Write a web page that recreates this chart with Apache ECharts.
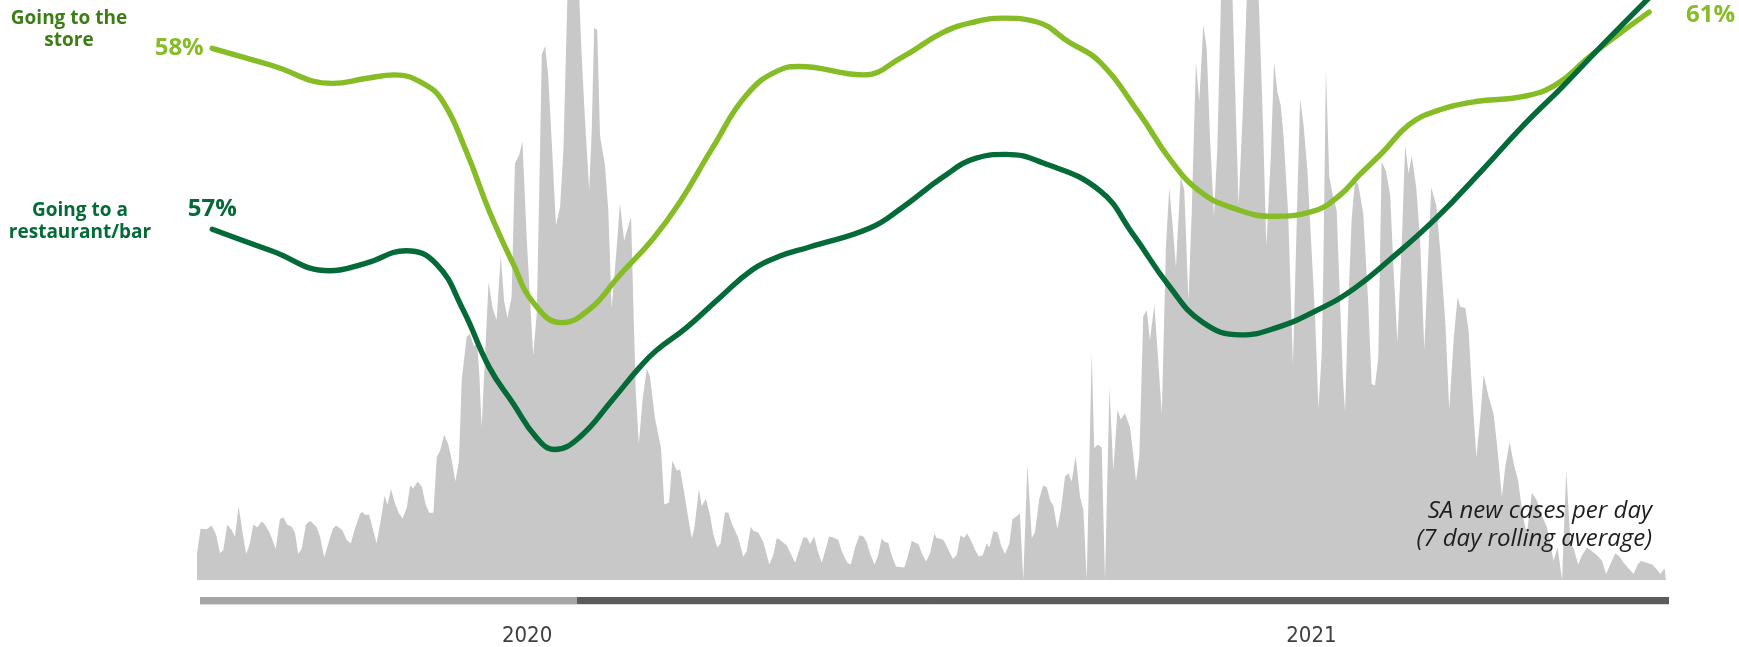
<!DOCTYPE html>
<html>
<head>
<meta charset="utf-8">
<script src="https://cdn.jsdelivr.net/npm/echarts@6/dist/echarts.min.js"></script>
<style>
  html, body { margin: 0; padding: 0; background: #ffffff; }
  #chart { width: 1739px; height: 647px; }
</style>
</head>
<body>
<div id="chart"></div>
<script>
// New cases per day, as [day index, cases]
const dailyCases = [
  [0,670],[1.3,1280],[3.5,1270],[5.3,1360],[6.9,1130],[8.3,670],[9.5,750],[10.9,1390],[12.5,1250],[13.7,1080],
  [15.0,1850],[16.5,1170],[17.7,650],[18.9,860],[20.3,1380],[21.8,1320],[23.3,1460],[24.5,1390],[26.3,1170],[28.4,780],
  [29.9,1520],[31.1,1570],[32.6,1380],[34.2,1330],[35.4,1170],[36.5,650],[37.8,790],[39.3,1390],[40.8,1480],[43.2,1320],
  [44.4,1080],[45.9,570],[47.4,920],[49.0,1280],[50.2,1360],[52.4,1250],[54.0,1000],[55.5,920],[57.0,1290],[58.8,1650],
  [59.8,1700],[60.6,1630],[62.1,1630],[63.4,1290],[64.8,920],[66.3,1500],[67.7,2110],[68.7,1880],[70.0,2270],[71.4,1920],
  [73.0,1650],[74.2,1540],[75.7,1810],[76.9,2370],[78.0,2290],[79.6,2460],[81.1,2330],[82.5,1880],[83.8,1680],[85.3,1680],
  [86.5,3070],[87.7,3230],[89.2,3630],[90.7,3380],[91.9,3000],[93.2,2460],[94.5,2960],[95.5,5000],[97.3,6080],[98.5,6150],
  [99.9,5840],[101.1,5920],[101.9,5090],[102.7,3820],[103.7,5280],[105.2,7450],[106.7,6790],[108.1,6500],[109.6,8100],[110.8,6980],
  [112.0,6550],[113.5,7070],[114.7,10410],[116.3,10640],[117.4,10970],[119.0,8480],[121.3,5610],[122.6,6690],[123.5,9800],[124.4,13140],
  [125.6,13350],[126.7,12620],[128.0,10930],[129.5,8860],[131.0,9330],[132.2,10740],[133.9,15250],[137.5,15250],[138.8,13090],[140.0,11490],
  [141.5,9750],[142.4,11210],[143.3,13800],[144.4,13750],[145.4,11110],[147.2,10360],[148.4,9230],[149.6,6790],[151.4,8290],[152.6,9420],
  [154.1,8480],[156.6,9090],[157.4,6970],[158.3,4720],[159.4,3400],[160.8,4530],[162.3,5280],[163.4,5090],[165.2,4060],[167.4,3300],
  [168.6,1890],[170.3,1940],[171.5,2980],[173.1,2740],[174.3,2760],[175.7,2220],[177.3,1520],[178.5,1050],[179.4,1280],[181.1,2270],
  [182.1,1850],[183.6,2030],[185.1,1610],[186.3,1140],[187.7,810],[188.9,910],[190.5,1690],[191.7,1690],[192.9,1420],[195.3,1050],
  [197.1,580],[198.3,720],[199.8,1330],[200.7,1230],[202.5,1190],[204.3,950],[206.5,390],[207.9,620],[209.2,1050],[210.4,1000],
  [212.8,860],[215.8,430],[217.3,760],[218.8,1060],[220.0,1060],[221.2,900],[222.7,1090],[223.8,760],[225.4,430],[226.6,720],
  [228.1,1090],[229.6,1060],[231.4,1000],[232.6,720],[234.6,430],[235.9,390],[237.4,810],[239.0,1120],[240.4,1090],[241.6,950],
  [242.8,670],[244.4,390],[245.6,580],[247.0,1030],[248.2,950],[249.4,930],[250.6,620],[252.2,340],[255.2,310],[256.4,580],
  [257.9,980],[259.1,930],[260.3,900],[261.5,670],[263.0,460],[264.5,670],[266.0,1160],[266.9,1050],[268.1,1030],[269.3,1000],
  [270.7,810],[272.7,530],[274.1,620],[275.5,1120],[276.7,1050],[277.9,1160],[279.5,950],[280.7,750],[282.1,590],[283.5,620],
  [284.9,910],[285.9,810],[287.3,1220],[288.9,1190],[290.1,860],[291.5,650],[293.1,910],[294.2,1520],[295.7,1590],[296.9,1660],
  [298.1,0],[299.6,2880],[301.2,1050],[302.3,1190],[303.9,2030],[305.3,2360],[306.6,2320],[307.8,1990],[309.0,1850],[310.4,1280],
  [311.7,1750],[313.2,2600],[314.4,2660],[315.6,2460],[317.0,3100],[318.6,2080],[319.8,1750],[321.0,0],[322.8,5700],[323.7,3300],
  [325.0,3380],[326.4,3320],[327.6,0],[329.2,4810],[330.6,2740],[332.1,4250],[333.3,4010],[334.8,4170],[336.6,3820],[337.8,3130],
  [338.8,2460],[340.0,3120],[341.4,6600],[342.7,6740],[343.8,5990],[345.4,6880],[346.8,5470],[348.1,4150],[349.6,8390],[350.8,9800],
  [352.0,8860],[353.2,7820],[354.9,10080],[356.2,9750],[357.7,6970],[358.9,9230],[360.4,12950],[361.6,11960],[363.1,13890],[364.3,13280],
  [365.5,11020],[366.9,9090],[368.1,10740],[369.7,15250],[373.3,15250],[374.8,11680],[375.8,9370],[377.3,11680],[379.1,15250],[382.7,15250],
  [384.6,11400],[385.8,8340],[387.4,10550],[388.6,12950],[389.8,12200],[391.0,11870],[392.0,11110],[393.7,9140],[395.4,5370],[396.8,9040],
  [398.0,12010],[399.2,11400],[400.6,10270],[401.8,8670],[403.4,6600],[404.6,4290],[405.8,5660],[406.4,7910],[407.3,12790],[408.5,10080],
  [409.8,9610],[411.2,9230],[412.4,6970],[413.4,5090],[414.2,4200],[415.4,6970],[416.6,9040],[417.8,9980],[419.0,9890],[420.8,9140],
  [422.6,6880],[423.8,4900],[425.0,4860],[426.2,5560],[427.4,10460],[429.0,10220],[430.5,9610],[431.6,7910],[433.1,5940],[434.7,8480],
  [435.9,10880],[437.1,10170],[438.3,10600],[439.9,9800],[441.3,8480],[442.8,5750],[444.0,7730],[445.3,9820],[447.1,9370],[448.6,8200],
  [450.4,6410],[451.8,4250],[453.4,6030],[454.8,7070],[455.8,6830],[457.6,6800],[458.8,6220],[460.0,4720],[461.6,3070],[463.0,4060],
  [464.2,5140],[466.0,4580],[467.8,4150],[469.0,3400],[470.8,2080],[472.0,2830],[473.6,3450],[475.0,2930],[476.7,2460],[478.3,1610],
  [479.8,1140],[481.6,2180],[483.4,1990],[485.2,1610],[487.0,1330],[488.2,950],[489.4,480],[490.9,810],[492.5,0],[494.0,2740],
  [495.5,950],[496.8,760],[498.3,390],[499.7,620],[501.5,810],[503.3,720],[505.1,620],[506.9,480],[508.4,150],[509.9,390],
  [511.7,670],[513.3,580],[514.7,430],[516.5,290],[518.3,150],[519.8,390],[521.0,480],[522.9,430],[525.0,390],[526.5,280],
  [528.0,150],[529.5,290],[530.0,340]
];

// Share of respondents comfortable going to the store (%)
const storeDays = [5.5, 26.8, 49, 60.8, 71.2, 81.5, 88.7, 97.1, 105.5, 114, 121.2, 131.4, 141.6, 152.4, 164.4,
  174, 186.1, 198.1, 210.1, 217.4, 240.2, 254.6, 269, 280.8, 290.8, 302.8, 314.7, 325.6, 340, 350.8, 361.6,
  373.6, 388.1, 402.5, 412.1, 419.3, 427.8, 437.4, 447, 461.4, 478.2, 490.3, 502.3, 511.9, 523.9];
const storeShare = [58, 56.6, 55.1, 55.5, 55.8, 55.1, 53.6, 49.5, 44.5, 40.2, 37.0, 35.3, 36.4, 39.2, 42.2,
  45.2, 49.8, 54.1, 56.2, 56.5, 55.8, 57.3, 59.3, 60.2, 60.5, 60.2, 58.5, 56.9, 52.6, 48.9, 46.2,
  44.8, 44.1, 44.5, 45.8, 47.5, 49.4, 51.7, 52.8, 53.6, 54.0, 55.0, 57.3, 59.0, 61];

// Share of respondents comfortable going to a restaurant/bar (%)
const restaurantDays = [5.5, 26.8, 47.8, 60.8, 75.5, 86.3, 95.9, 105.5, 114, 122.4, 129, 138, 150, 159.6, 165.6,
  176.5, 188.5, 200.5, 210.1, 221, 242.6, 254.6, 269, 281.1, 291.9, 305.1, 325.6, 337.6, 350.8, 362.8,
  376.6, 389.3, 404.9, 417.5, 430.2, 447, 463.8, 478.2, 492.7, 507.1, 524.8];
const restaurantShare = [57.00, 56.54, 56.11, 56.27, 56.54, 56.26, 55.29, 54.04, 53.28, 52.55, 52.29, 52.55, 53.36, 54.04, 54.40,
  54.89, 55.53, 56.14, 56.42, 56.62, 57.02, 57.47, 58.11, 58.52, 58.60, 58.42, 57.83, 56.90, 55.78, 55.01,
  54.74, 54.89, 55.29, 55.73, 56.34, 57.23, 58.27, 59.20, 60.05, 60.94, 62.00];

// Timeline strip: segment lengths in days
const timelineSegments = [136, 394];
const yearLabels = ['2020', '2021'];
const yearLabelDays = [118, 401];

const STORE_COLOR = '#86BC25';
const RESTAURANT_COLOR = '#046A38';
const FONT = '"Open Sans", "Noto Sans", sans-serif';

function pairs(xs, ys) { return xs.map((x, i) => [x, ys[i]]); }

function withStartLabel(points, color, position, distance) {
  const data = points.map(p => p.slice());
  data[0] = {
    value: points[0],
    symbol: 'circle',
    symbolSize: 3,
    itemStyle: { color: color },
    label: {
      show: true,
      position: position,
      distance: distance,
      formatter: p => Math.round(p.value[1]) + '%',
      color: color,
      fontFamily: FONT,
      fontWeight: 'bold',
      fontSize: 24
    }
  };
  return data;
}

const chart = echarts.init(document.getElementById('chart'), null, { renderer: 'canvas' });

chart.setOption({
  animation: false,
  backgroundColor: '#ffffff',
  grid: [
    { left: 197, right: 73, top: 0, bottom: 67 },
    { left: 200, right: 70, top: 597, height: 10 }
  ],
  xAxis: [
    { gridIndex: 0, type: 'value', min: 0, max: 530, show: false },
    {
      gridIndex: 1, type: 'value', min: 0, max: 530,
      axisLine: { show: true, onZero: false, lineStyle: { color: '#dadada', width: 1 } },
      axisTick: { show: false },
      splitLine: { show: false },
      axisLabel: {
        customValues: yearLabelDays,
        formatter: v => { const i = yearLabelDays.indexOf(v); return i >= 0 ? yearLabels[i] : ''; },
        margin: 21,
        fontSize: 22,
        fontFamily: '"Liberation Sans Narrow", "DejaVu Sans Condensed", sans-serif',
        color: '#404040'
      }
    }
  ],
  yAxis: [
    { gridIndex: 0, type: 'value', min: 0, max: 14500, show: false },
    { gridIndex: 0, type: 'value', min: 14, max: 62, show: false },
    { gridIndex: 0, type: 'value', min: 49.5, max: 61.9, show: false },
    { gridIndex: 1, type: 'category', data: ['timeline'], show: false }
  ],
  series: [
    {
      name: 'SA new cases per day',
      type: 'line',
      xAxisIndex: 0, yAxisIndex: 0,
      data: dailyCases,
      symbol: 'none',
      lineStyle: { width: 0 },
      areaStyle: { color: '#c8c8c8', opacity: 1 },
      silent: true,
      z: 1
    },
    {
      name: 'Going to the store',
      type: 'line',
      xAxisIndex: 0, yAxisIndex: 1,
      data: withStartLabel(pairs(storeDays, storeShare), STORE_COLOR, 'left', 7),
      smooth: 0.45,
      symbol: 'none',
      lineStyle: { color: STORE_COLOR, width: 5.4, cap: 'round' },
      itemStyle: { color: STORE_COLOR },
      endLabel: {
        show: true, distance: 37, offset: [0, 3],
        formatter: p => Math.round(p.value[1]) + '%',
        color: STORE_COLOR, fontFamily: FONT, fontWeight: 'bold', fontSize: 24
      },
      z: 3
    },
    {
      name: 'Going to a restaurant/bar',
      type: 'line',
      xAxisIndex: 0, yAxisIndex: 2,
      data: withStartLabel(pairs(restaurantDays, restaurantShare), RESTAURANT_COLOR, 'top', 7),
      smooth: 0.45,
      symbol: 'none',
      lineStyle: { color: RESTAURANT_COLOR, width: 5.4, cap: 'round' },
      itemStyle: { color: RESTAURANT_COLOR },
      endLabel: {
        show: true, distance: 35, offset: [0, -4],
        formatter: p => Math.round(p.value[1]) + '%',
        color: RESTAURANT_COLOR, fontFamily: FONT, fontWeight: 'bold', fontSize: 24
      },
      z: 4
    },
    {
      type: 'bar', xAxisIndex: 1, yAxisIndex: 3, stack: 'timeline',
      data: [timelineSegments[0]], barWidth: 10,
      itemStyle: { color: '#a6a6a6' }, silent: true
    },
    {
      type: 'bar', xAxisIndex: 1, yAxisIndex: 3, stack: 'timeline',
      data: [timelineSegments[1]], barWidth: 10,
      itemStyle: { color: '#5b5b5b' }, silent: true
    }
  ],
  graphic: [
    {
      type: 'text', x: 69, y: 30, z: 100,
      style: {
        text: 'Going to the\nstore', fill: '#3c7d16',
        font: 'bold 19px ' + FONT, align: 'center', verticalAlign: 'middle', lineHeight: 22
      }
    },
    {
      type: 'text', x: 80, y: 222, z: 100,
      style: {
        text: 'Going to a\nrestaurant/bar', fill: RESTAURANT_COLOR,
        font: 'bold 19px ' + FONT, align: 'center', verticalAlign: 'middle', lineHeight: 22
      }
    },
    {
      type: 'text', x: 1652, y: 525, z: 100,
      style: {
        text: 'SA new cases per day\n(7 day rolling average)', fill: '#1e1e1e',
        font: 'italic 24px ' + FONT, align: 'right', verticalAlign: 'middle', lineHeight: 28
      }
    }
  ]
});
</script>
</body>
</html>
